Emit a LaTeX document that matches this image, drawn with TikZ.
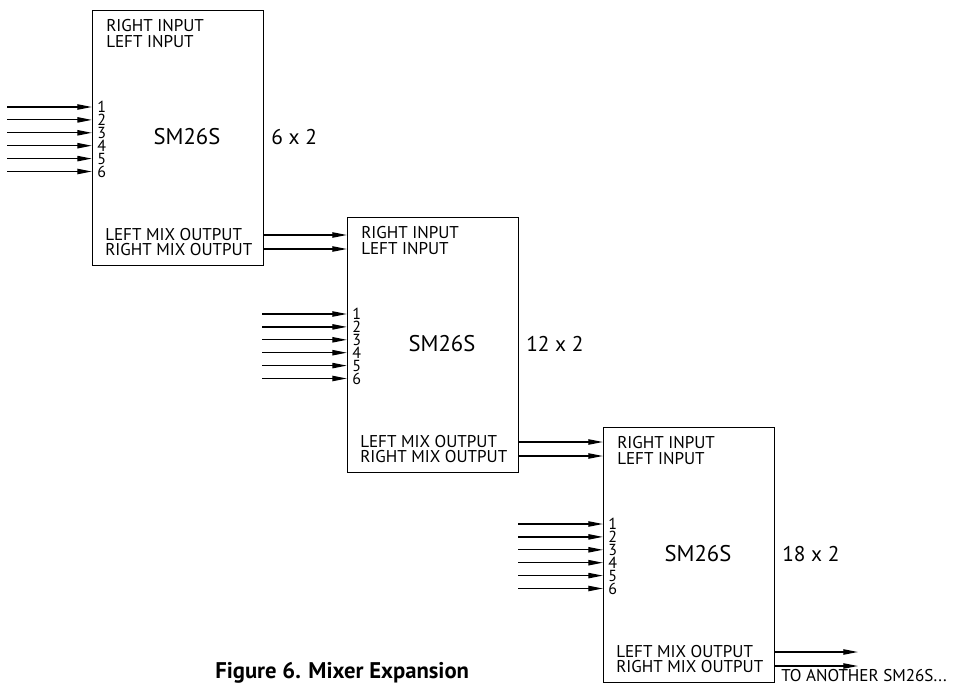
\documentclass[tikz,border=0pt]{standalone}
\usepackage{fontspec}
\setmainfont{PT Sans}
\usetikzlibrary{arrows.meta,calc}
\begin{document}
\begin{tikzpicture}[x=0.75pt,y=-0.75pt,
  box/.style={draw, line width=0.8pt, anchor=north west, inner sep=0pt,
              minimum width=128.25pt, minimum height=191.25pt},
  lbl/.style={font=\fontsize{12.8}{14}\selectfont, inner sep=0pt, anchor=west},
  dig/.style={font=\fontsize{12}{13}\selectfont, inner sep=0pt, anchor=west},
  big/.style={font=\fontsize{17}{20}\selectfont, inner sep=0pt},
  sig/.style={line width=0.9pt, -{Triangle[length=11pt,width=4pt]}},
  ttl/.style={font=\bfseries\fontsize{17}{20}\selectfont, inner sep=0pt, anchor=base west}]
\useasboundingbox (0,0) rectangle (953,684);
\foreach \i/\X/\Y/\N in {1/92/10/6, 2/347/217/12, 3/603/427/18} {
  \node[box] (B\i) at (\X,\Y) {};
  \node[lbl] (B\i-ri) at (\X+14,\Y+16) {RIGHT INPUT};
  \node[lbl] (B\i-li) at (\X+14,\Y+31.5) {LEFT INPUT};
  \node[lbl] (B\i-lmo) at (\X+13,\Y+224.5) {LEFT MIX OUTPUT};
  \node[lbl] (B\i-rmo) at (\X+13,\Y+239.5) {RIGHT MIX OUTPUT};
  \node[big] (B\i-name) at (\X+95,\Y+127) {SM26S};
  \node[big, anchor=west, font=\fontsize{16}{19}\selectfont] (B\i-size) at (\X+179,\Y+127) {\N\ x 2};
  \coordinate (B\i-outL) at (\X+171,\Y+225);
  \coordinate (B\i-outR) at (\X+171,\Y+239);
  \foreach \k in {1,...,6} {
    \node[dig] (B\i-d\k) at (\X+5,\Y+97+12.9*\k-12.9) {\k};
    \coordinate (B\i-s\k) at (\X-85,\Y+97+12.9*\k-12.9);
    \draw[sig] (B\i-s\k) -- (B\i-s\k -| B\i.west);
  }
}
\draw[sig] (B1-outL) -- (B1-outL -| B2.west);
\draw[sig] (B1-outR) -- (B1-outR -| B2.west);
\draw[sig] (B2-outL) -- (B2-outL -| B3.west);
\draw[sig] (B2-outR) -- (B2-outR -| B3.west);
\coordinate (E1) at (858,651);
\coordinate (E2) at (858,665);
\draw[sig] (B3-outL) -- (B3-outL -| E1);
\draw[sig] (B3-outR) -- (B3-outR -| E2);
\node[lbl] (more) at (781,676) {TO ANOTHER SM26S...};
\node[ttl] (title) at (215,678) {Figure 6. Mixer Expansion};
\end{tikzpicture}
\end{document}
